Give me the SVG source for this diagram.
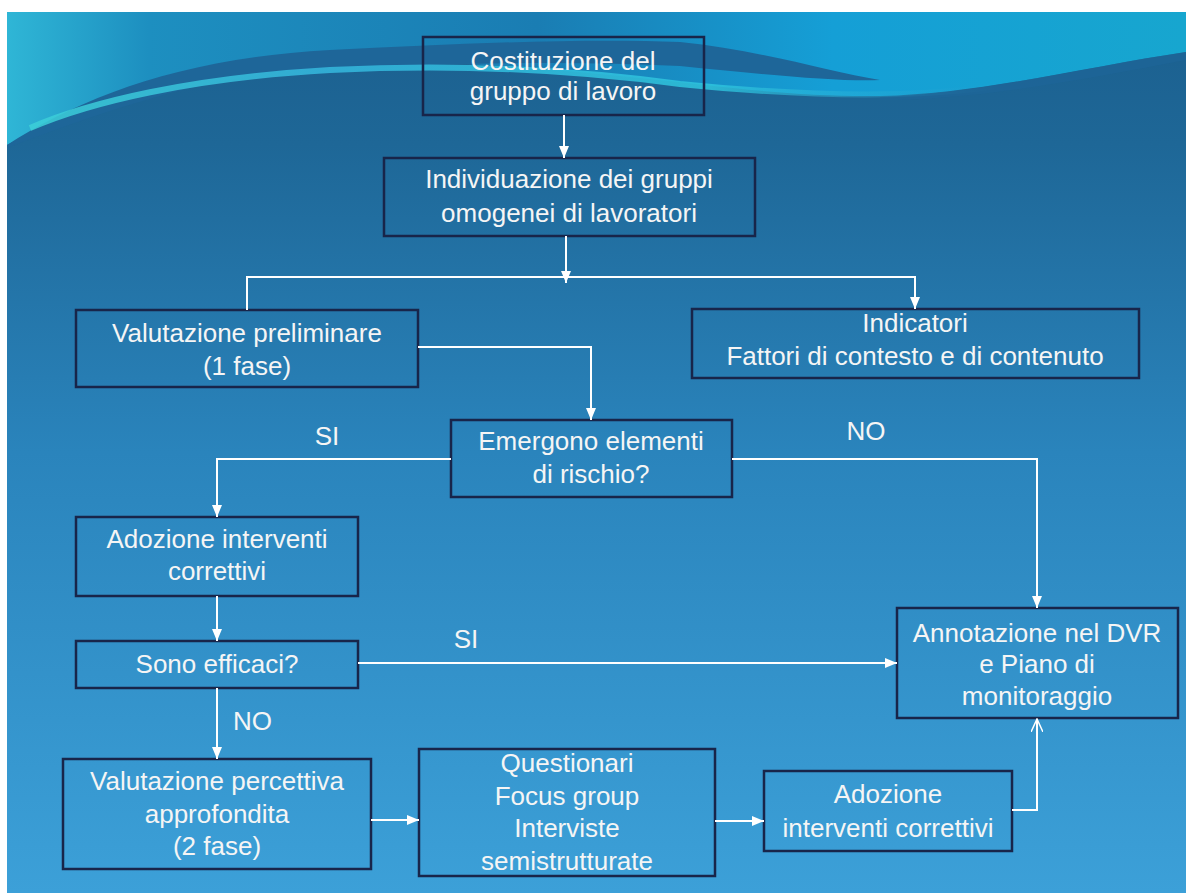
<svg xmlns="http://www.w3.org/2000/svg" width="1186" height="893" viewBox="0 0 1186 893">
<defs>
<linearGradient id="bg" x1="0" y1="0" x2="0" y2="1">
<stop offset="0" stop-color="#1b5f8e"/>
<stop offset="0.15" stop-color="#1e6797"/>
<stop offset="0.5" stop-color="#2a84bc"/>
<stop offset="1" stop-color="#3ca0d8"/>
</linearGradient>
<linearGradient id="topl" x1="0" y1="0" x2="1" y2="0">
<stop offset="0" stop-color="#2fb6d6"/>
<stop offset="0.12" stop-color="#1d8fc0"/>
<stop offset="0.45" stop-color="#1a7db3"/>
<stop offset="0.7" stop-color="#159fd6"/>
<stop offset="1" stop-color="#17a6cf"/>
</linearGradient>
<linearGradient id="band" x1="0" y1="0" x2="1" y2="0">
<stop offset="0" stop-color="#3cd0d8"/>
<stop offset="0.3" stop-color="#35b8de"/>
<stop offset="0.7" stop-color="#2ec6de"/>
<stop offset="1" stop-color="#2a9fd0" stop-opacity="0"/>
</linearGradient>
<marker id="ah" markerWidth="12" markerHeight="10" refX="12" refY="5" orient="auto" markerUnits="userSpaceOnUse">
<path d="M0,0 L12,5 L0,10 Z" fill="#ffffff"/>
</marker>
<marker id="open" markerWidth="14" markerHeight="12" refX="13" refY="6" orient="auto" markerUnits="userSpaceOnUse">
<path d="M0,0 L13,6 L0,12" fill="none" stroke="#ffffff" stroke-width="1.5"/>
</marker>
</defs>
<style>
.box{fill:none;stroke:#18254a;stroke-width:2.5}
.t{font-family:"Liberation Sans",Arial,sans-serif;font-size:26px;fill:#f5f5f5;text-anchor:middle}
.lbl{font-family:"Liberation Sans",Arial,sans-serif;font-size:26px;fill:#f5f5f5}
.c{fill:none;stroke:#ffffff;stroke-width:2}
</style>
<rect x="0" y="0" width="1186" height="893" fill="#ffffff"/>
<g id="background">
<rect x="7" y="12" width="1179" height="881" fill="url(#bg)"/>
<path d="M7,12 H1186 V52 C1090,66 980,94 880,96 C790,97 720,86 640,78 C540,68 440,60 330,60 C200,60 100,95 7,145 Z" fill="url(#topl)"/>
<path d="M7,145 C80,98 180,58 330,50 C450,44 580,38 680,42 C760,50 830,72 880,80 C840,82 760,74 680,66 C560,60 450,64 330,68 C220,72 120,105 7,148 Z" fill="#1e6699"/>
<path d="M30,128 C90,102 190,78 330,70 C450,64 560,68 680,84 C760,92 830,96 900,94 C940,93 970,90 1000,86" fill="none" stroke="url(#band)" stroke-width="6" opacity="0.85"/>
<path d="M880,97 C980,94 1090,66 1186,52 V60 C1090,78 980,100 880,100 Z" fill="#1e6699" opacity="0.6"/>
</g>
<g id="n1"><rect class="box" x="423" y="37" width="281" height="78"/><text class="t" x="563" y="70">Costituzione del</text><text class="t" x="563" y="100">gruppo di lavoro</text></g>
<g id="n2"><rect class="box" x="384" y="158" width="371" height="78"/><text class="t" x="569" y="188">Individuazione dei gruppi</text><text class="t" x="569" y="222">omogenei di lavoratori</text></g>
<g id="n3"><rect class="box" x="76" y="310" width="342" height="77"/><text class="t" x="247" y="342">Valutazione preliminare</text><text class="t" x="247" y="375">(1 fase)</text></g>
<g id="n4"><rect class="box" x="692" y="309" width="447" height="69"/><text class="t" x="915" y="332">Indicatori</text><text class="t" x="915" y="365">Fattori di contesto e di contenuto</text></g>
<g id="n5"><rect class="box" x="451" y="420" width="281" height="77"/><text class="t" x="591" y="450">Emergono elementi</text><text class="t" x="591" y="483">di rischio?</text></g>
<g id="n6"><rect class="box" x="76" y="517" width="282" height="79"/><text class="t" x="217" y="548">Adozione interventi</text><text class="t" x="217" y="580">correttivi</text></g>
<g id="n7"><rect class="box" x="76" y="641" width="282" height="47"/><text class="t" x="217" y="673">Sono efficaci?</text></g>
<g id="n8"><rect class="box" x="63" y="759" width="308" height="110"/><text class="t" x="217" y="790">Valutazione percettiva</text><text class="t" x="217" y="823">approfondita</text><text class="t" x="217" y="855">(2 fase)</text></g>
<g id="n9"><rect class="box" x="419" y="749" width="296" height="127"/><text class="t" x="567" y="772">Questionari</text><text class="t" x="567" y="805">Focus group</text><text class="t" x="567" y="837">Interviste</text><text class="t" x="567" y="870">semistrutturate</text></g>
<g id="n10"><rect class="box" x="764" y="771" width="248" height="80"/><text class="t" x="888" y="803">Adozione</text><text class="t" x="888" y="837">interventi correttivi</text></g>
<g id="n11"><rect class="box" x="897" y="608" width="281" height="110"/><text class="t" x="1037" y="642">Annotazione nel DVR</text><text class="t" x="1037" y="673">e Piano di</text><text class="t" x="1037" y="705">monitoraggio</text></g>
<g id="connectors">
<path class="c" d="M564,115 V158" marker-end="url(#ah)"/>
<path class="c" d="M566,236 V283" marker-end="url(#ah)"/>
<path class="c" d="M247,310 V277 H915 V309" marker-end="url(#ah)"/>
<path class="c" d="M418,347 H591 V420" marker-end="url(#ah)"/>
<path class="c" d="M451,459 H217 V517" marker-end="url(#ah)"/>
<path class="c" d="M732,459 H1037 V608" marker-end="url(#ah)"/>
<path class="c" d="M217,596 V641" marker-end="url(#ah)"/>
<path class="c" d="M358,663 H897" marker-end="url(#ah)"/>
<path class="c" d="M217,688 V759" marker-end="url(#ah)"/>
<path class="c" d="M371,820 H419" marker-end="url(#ah)"/>
<path class="c" d="M715,821 H764" marker-end="url(#ah)"/>
<path class="c" d="M1012,810 H1037 V719" marker-end="url(#open)"/>
</g>
<g id="labels">
<text class="lbl" x="327" y="445" text-anchor="middle">SI</text>
<text class="lbl" x="866" y="440" text-anchor="middle">NO</text>
<text class="lbl" x="466" y="648" text-anchor="middle">SI</text>
<text class="lbl" x="233" y="730">NO</text>
</g>
</svg>
